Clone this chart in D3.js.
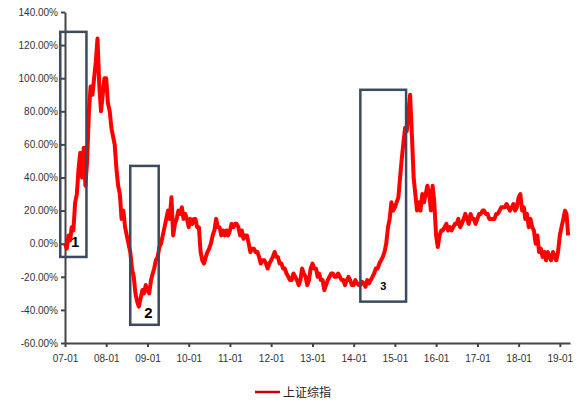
<!DOCTYPE html><html><head><meta charset="utf-8"><script src="https://cdn.jsdelivr.net/npm/d3@7"></script>
<style>body{margin:0;background:#fff}text{font-family:Arial,"Liberation Sans",sans-serif}</style></head><body><svg id="c" width="578" height="407"></svg><script>
// half-monthly values (%) per year
const y2007=[0,-3,5,2,10,8,25,30,45,55,40,58,35,50,80,95,90,100,110,124,95,80,90,100];
const y2008=[100,85,80,70,65,60,45,35,30,15,20,10,5,0,-5,-15,-20,-30,-35,-38,-33,-28,-30,-25];
const y2009=[-28,-30,-22,-18,-15,-10,-8,-2,0,5,10,15,20,15,28,5,12,15,20,18,22,15,18,15];
const y2010=[10,15,12,15,15,10,10,-5,-10,-12,-8,-5,-3,0,5,8,15,10,10,5,8,5,8,5];
const y2011=[8,12,10,12,12,10,5,8,3,5,5,0,-5,-3,-3,-5,-5,-8,-12,-10,-10,-12,-15,-12];
const y2012=[-10,-8,-5,-8,-8,-12,-12,-15,-15,-18,-20,-22,-22,-18,-20,-22,-25,-22,-15,-18,-20,-25,-22,-15];
const y2013=[-12,-15,-15,-20,-18,-22,-22,-28,-25,-22,-20,-18,-18,-20,-20,-18,-20,-22,-22,-25,-22,-20,-22,-25];
const y2014=[-25,-22,-24,-25,-25,-23,-24,-26,-22,-24,-22,-20,-18,-15,-15,-12,-10,-8,-5,0,10,15,25,20];
const y2015=[22,25,28,40,50,60,70,68,80,90,65,40,30,20,25,20,30,25,30,35,30,20,35,25];
const y2016=[5,-2,5,8,8,10,12,8,10,8,10,12,12,15,10,12,15,18,15,12,18,15,15,12];
const y2017=[15,18,18,20,20,18,18,15,15,15,15,18,18,20,22,22,22,24,22,20,22,24,20,22];
const y2018=[28,30,20,22,15,18,10,15,10,8,0,5,-5,-3,-8,-5,-10,-5,-8,-10,-5,-8,-10,-5];
const y2019=[5,10,15,20,18,5];
const years=[y2007,y2008,y2009,y2010,y2011,y2012,y2013,y2014,y2015,y2016,y2017,y2018,y2019];
const tickYears=d3.range(2007,2020);
const yTicks=d3.range(-60,141,20);
const pts=[];years.forEach((arr,k)=>arr.forEach((v,i)=>pts.push({d:new Date(2007+k,Math.floor(i/2),i%2?16:1),v})));
const boxes=[{x0:new Date(2006,10,20),x1:new Date(2007,6,10),y0:128,y1:-8,label:"1",lx:new Date(2007,3,1),ly:-2,fs:15},
{x0:new Date(2008,7,1),x1:new Date(2009,3,10),y0:47,y1:-49,label:"2",lx:new Date(2009,0,10),ly:-45,fs:15},
{x0:new Date(2014,2,1),x1:new Date(2015,3,10),y0:93,y1:-35,label:"3",lx:new Date(2014,8,20),ly:-28,fs:11}];
const svg=d3.select("#c");
const x=d3.scaleTime().domain([new Date(2007,0,1),new Date(2019,3,1)]).range([65,570]);
const y=d3.scaleLinear().domain([-60,140]).range([343,12]);
const ax=svg.append("g").attr("transform","translate(0,343)").call(d3.axisBottom(x).tickValues(tickYears.map(t=>new Date(t,0,1))).tickFormat(d3.timeFormat("%y-%m")).tickSize(4).tickSizeOuter(0));
const ay=svg.append("g").attr("transform","translate(65,0)").call(d3.axisLeft(y).tickValues(yTicks).tickFormat(d=>d.toFixed(2)+"%").tickSize(4).tickSizeOuter(0));
[ax,ay].forEach(a=>{a.selectAll("path,line").attr("stroke","#444").attr("stroke-width",2);a.selectAll("text").attr("font-size",10).attr("fill","#333");});
ax.selectAll("text").attr("dy","1.2em");
svg.append("path").datum(pts).attr("fill","none").attr("stroke","#f00").attr("stroke-width",4).attr("stroke-linejoin","round")
 .attr("d",d3.line().x(p=>x(p.d)).y(p=>y(p.v)));
boxes.forEach(b=>{svg.append("rect").attr("x",x(b.x0)).attr("y",y(b.y0)).attr("width",x(b.x1)-x(b.x0)).attr("height",y(b.y1)-y(b.y0)).attr("fill","none").attr("stroke","#3b4a5e").attr("stroke-width",2.5);
 svg.append("text").attr("x",x(b.lx)).attr("y",y(b.ly)).attr("font-size",b.fs).attr("font-weight","bold").attr("text-anchor","middle").text(b.label);});
svg.append("line").attr("x1",255).attr("x2",280).attr("y1",392).attr("y2",392).attr("stroke","#c00").attr("stroke-width",2.5);
svg.append("text").attr("x",283).attr("y",397).attr("font-size",12).attr("fill","#222").style("font-family","'Noto Sans CJK SC'").text("上证综指");
</script></body></html>
